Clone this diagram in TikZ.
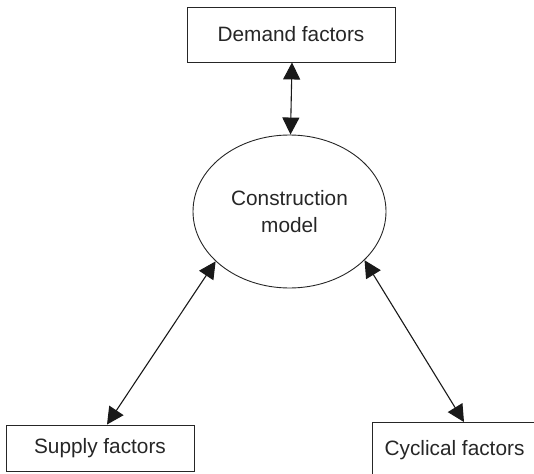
\documentclass[tikz,border=0pt]{standalone}
\usepackage{fontspec}
\setmainfont{Liberation Sans}
\usetikzlibrary{shapes.geometric,arrows.meta}
\begin{document}
\begin{tikzpicture}[x=1pt,y=-1pt,
  every node/.style={font=\fontsize{20.8}{27}\selectfont, text=black!85},
  factorbox/.style={draw=black!85, line width=0.9pt, inner sep=0pt},
  link/.style={draw=black!90, line width=1.1pt, {Triangle[length=17pt,width=17pt]}-{Triangle[length=17pt,width=17pt]}}]
\useasboundingbox (0,0) rectangle (534,473);
\clip (0,0) rectangle (534,473);
\node[factorbox, minimum width=208pt, minimum height=55pt] (dem) at (291,34.5) {Demand factors};
\node[draw=black!85, line width=0.9pt, ellipse, inner sep=0pt, minimum width=193pt, minimum height=153pt, align=center] (cm) at (289.5,211.5) {Construction\\model};
\node[factorbox, minimum width=188pt, minimum height=46pt] (sup) at (100,448) {Supply factors};
\node[factorbox, minimum width=168pt, minimum height=55pt] (cyc) at (456,450) {\hspace*{-3pt}Cyclical factors};
\draw[link] ([xshift=1pt]dem.south) -- ([xshift=1pt]cm.north);
\draw[link] (cm.214.5) -- ([xshift=7pt]sup.north);
\draw[link] (cm.-33) -- ([xshift=8pt]cyc.north);
\end{tikzpicture}
\end{document}
